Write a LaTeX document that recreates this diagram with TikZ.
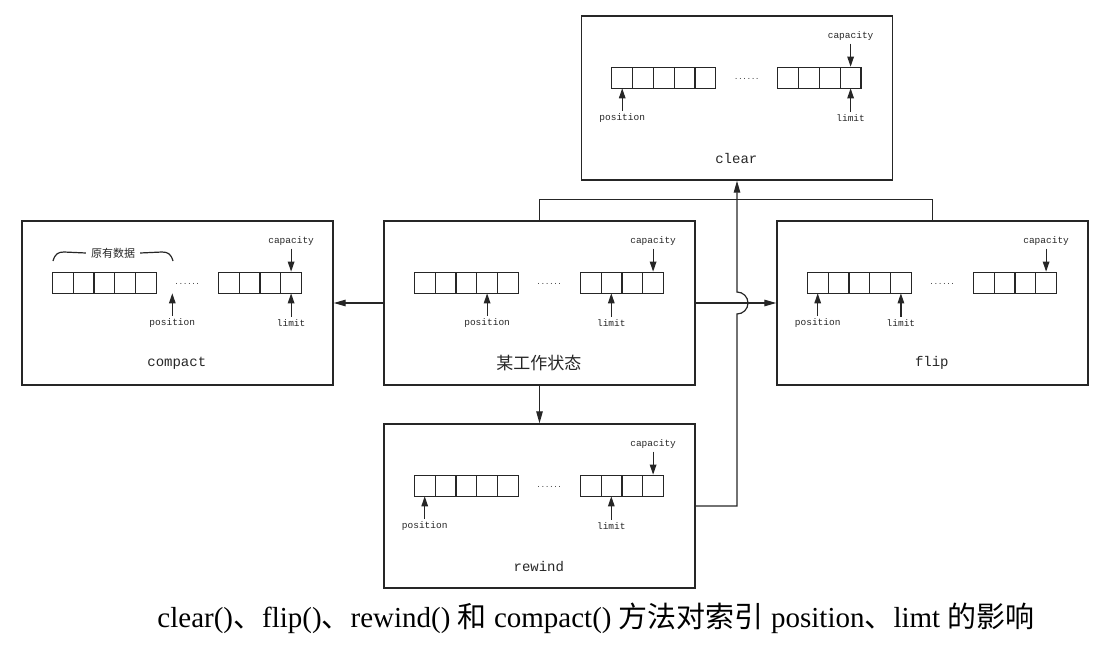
\documentclass[tikz,border=0pt]{standalone}
\usepackage{fontspec}
\setmainfont{Liberation Serif}
\newfontfamily\codefont{Liberation Mono}
\newfontfamily\cjk{Noto Sans CJK SC}
\usetikzlibrary{arrows.meta}
\definecolor{ink}{gray}{0.15}

\begin{document}
\begin{tikzpicture}[x=1pt,y=1pt,yscale=-1,xscale=1,
  >={Triangle[length=12pt,width=6.5pt]},
  panel/.style={draw=ink,line width=1.4pt,minimum width=311pt,minimum height=164pt,inner sep=0pt},
  cellbox/.style={draw=ink,line width=1.2pt,minimum width=20.8pt,minimum height=21pt,inner sep=0pt},
  tag/.style={text=ink,inner sep=0.75pt,font=\codefont\fontsize{9.5}{11}\selectfont},
  dotsym/.style={text=ink,inner sep=0pt,anchor=base,font=\codefont\fontsize{7}{8}\selectfont},
  title/.style={text=ink,inner sep=0.75pt,font=\codefont\fontsize{14}{16}\selectfont},
  ptr/.style={draw=ink,line width=1.2pt,-{Triangle[length=10pt,width=6.5pt]},shorten <=2pt},
  flow/.style={draw=ink,line width=1.2pt}]
\useasboundingbox (0,0) rectangle (1107,647);

%Panels
\node[panel] (clr) at (737,98) {};
\node[panel] (cmp) at (177.5,303) {};
\node[panel] (mid) at (539.5,303) {};
\node[panel] (flp) at (932.5,303) {};
\node[panel] (rew) at (539.5,506) {};

%Buffers, pointers and titles
\foreach \p/\ps/\ls/\ttl in {clr/41.4/269.8/clear, cmp/151/269.8/compact, mid/103.8/228/{\cjk\fontsize{17}{19}\selectfont 某工作状态}, flp/41.4/124.6/flip, rew/41.4/228/rewind}{
  \begin{scope}[shift={(\p.north west)}]
    \foreach \i in {0,...,4} \node[cellbox] (\p-l\i) at (41.4+20.8*\i,62.5) {};
    \foreach \i in {0,...,3} \node[cellbox] (\p-r\i) at (207.4+20.8*\i,62.5) {};
    \node[dotsym] (\p-dots) at (166,64) {......};
    \node[tag] (\p-cap) at (269.8,21) {capacity};
    \node[tag] (\p-pos) at (\ps,103) {position};
    \node[tag] (\p-lim) at (\ls,103) {limit};
    \coordinate (\p-pp) at (\ps,73);
    \coordinate (\p-lp) at (\ls,73);
    \draw[ptr] (\p-cap) -- (\p-r3);
    \draw[ptr] (\p-pos) -- (\p-pp);
    \draw[ptr] (\p-lim) -- (\p-lp);
    \node[title] (\p-ttl) at (155.5,143) {\ttl};
  \end{scope}
}

%Bracket over the old data
\node[text=ink,inner sep=5pt,font=\cjk\fontsize{11}{12}\selectfont] (cmp-old) at (113,253) {原有数据};
\draw[flow] (53,261) .. controls (55,254) and (58,252) .. (64,252) -- (cmp-old.west);
\draw[flow] (cmp-old.east) -- (162,252) .. controls (168,252) and (171,254) .. (173,261);

%Connectors
\draw[flow,->] (mid.west) -- (cmp.east);
\draw[flow,->] (mid.east) -- (flp.west);
\draw[flow,->] (mid.south) -- (rew.north);
\draw[flow] (mid.north) -- ++(0,-21) -| (flp.north);
\draw[flow,->] (rew.east) -| (737,314) arc[start angle=90,end angle=-90,radius=11] -- (clr.south);

% Caption
\node[text=black,inner sep=0.75pt,font=\fontsize{29}{33}\selectfont] (cap) at (596,618) {clear(){\cjk 、}flip(){\cjk 、}rewind() {\cjk 和} compact() {\cjk 方法对索引} position{\cjk 、}limt {\cjk 的影响}};

\end{tikzpicture}
\end{document}
